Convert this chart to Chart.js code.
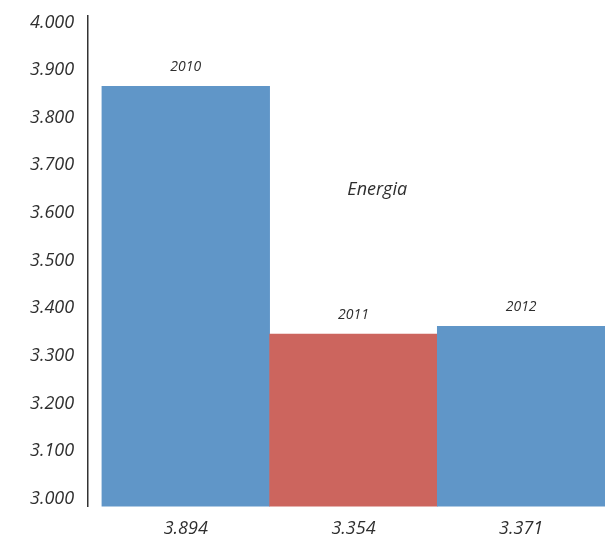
<!DOCTYPE html>
<html>
<head>
<meta charset="utf-8">
<script src="https://cdn.jsdelivr.net/npm/chart.js@4/dist/chart.umd.min.js"></script>
<style>
html, body { margin: 0; padding: 0; background: #fff; }
#wrap { width: 605px; height: 536px; }
</style>
</head>
<body>
<div id="wrap"><canvas id="bar-chart-energia"></canvas></div>
<script>
var anni = ["2010", "2011", "2012"];
var etichette = ["3.894", "3.354", "3.371"];
var valori = [3.866, 3.346, 3.362];
var colori = ["#6096c8", "#cc655e", "#6096c8"];
var tickY = [3.0, 3.1, 3.2, 3.3, 3.4, 3.5, 3.6, 3.7, 3.8, 3.9, 4.0];
var titolo = "Energia";

var testo = '#2e2e2e';
var fontFam = '"Open Sans", "Noto Sans", sans-serif';

// etichette sopra le barre + titolo in mezzo
var etichetteBarre = {
    id: 'etichetteBarre',
    afterDatasetsDraw: function(chart) {
        var ctx = chart.ctx;
        var meta = chart.getDatasetMeta(0);
        ctx.save();
        ctx.fillStyle = testo;
        ctx.textAlign = 'center';
        ctx.textBaseline = 'middle';
        ctx.font = 'italic 14px ' + fontFam;
        meta.data.forEach(function(bar, i) {
            ctx.fillText(anni[i], bar.x, bar.y - 19);
        });
        ctx.font = 'italic 18px ' + fontFam;
        ctx.fillText(titolo, chart.scales.x.getPixelForValue(2.142), chart.scales.y.getPixelForValue(3.649));
        ctx.restore();
    }
};

new Chart(document.getElementById("bar-chart-energia"), {
    type: 'bar',
    data: {
        datasets: [{
            label: titolo,
            data: valori.map(function(v, i) { return { x: i + 1, y: v }; }),
            backgroundColor: colori,
            borderWidth: 0,
            barPercentage: 1,
            categoryPercentage: 1
        }]
    },
    options: {
        responsive: true,
        maintainAspectRatio: false,
        animation: false,
        layout: { padding: { left: 16, top: 16, right: 0, bottom: -16 } },
        plugins: {
            legend: { display: false },
            tooltip: { enabled: false }
        },
        scales: {
            x: {
                type: 'linear',
                offset: false,
                min: 0.418,
                max: 3.5,
                grid: { display: false, drawTicks: false, offset: false },
                border: { display: false },
                afterBuildTicks: function(scale) {
                    scale.ticks = anni.map(function(a, i) { return { value: i + 1 }; });
                },
                ticks: {
                    maxRotation: 0,
                    padding: 12,
                    color: testo,
                    font: { family: fontFam, size: 18, style: 'italic' },
                    callback: function(v) { return etichette[v - 1]; }
                }
            },
            y: {
                min: 2.984,
                max: 4.0136,
                grid: { display: false, drawTicks: false },
                border: { display: true, color: '#333333', width: 1.5 },
                afterBuildTicks: function(scale) {
                    scale.ticks = tickY.map(function(v) { return { value: v }; });
                },
                ticks: {
                    padding: 14,
                    color: testo,
                    font: { family: fontFam, size: 18, style: 'italic', lineHeight: 0.2 },
                    callback: function(v) { return v.toFixed(3); }
                }
            }
        }
    },
    plugins: [etichetteBarre]
});
</script>
</body>
</html>
